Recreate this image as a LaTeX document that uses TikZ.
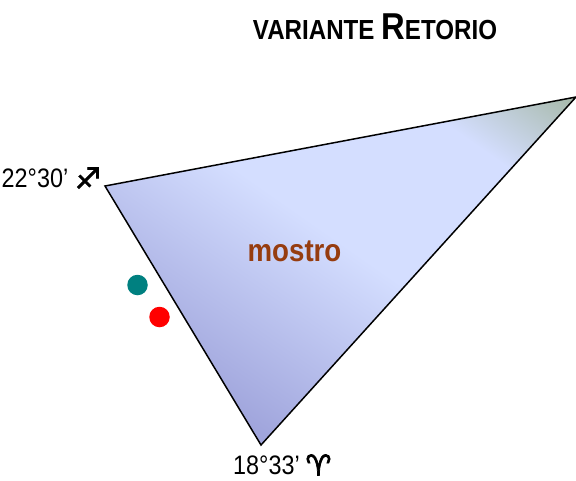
\documentclass[tikz,border=0pt]{standalone}
\usepackage{fontspec}
\usepackage{tikz}
\usetikzlibrary{positioning}
\setmainfont[FakeStretch=0.875]{Liberation Sans}
\newfontfamily\astrofont[FakeBold=2.5]{DejaVu Sans}
\definecolor{tealdot}{RGB}{0,128,128}
\definecolor{titlebrown}{RGB}{150,60,15}
\definecolor{fillA}{RGB}{160,165,220}
\definecolor{fillB}{RGB}{212,222,255}
\definecolor{fillC}{RGB}{168,186,172}
\pgfdeclareverticalshading{mostrofill}{100bp}{
  color(0bp)=(fillA);
  color(27.6bp)=(fillA);
  color(53bp)=(fillB);
  color(72.7bp)=(fillB);
  color(84.3bp)=(fillC);
  color(100bp)=(fillC)}
\tikzset{
  deglabel/.style={inner sep=0pt, font=\fontsize{15.2pt}{16pt}\selectfont},
  zodiac/.style={inner sep=0pt, font=\astrofont\fontsize{16.5pt}{17pt}\selectfont},
  dot/.style={circle, inner sep=0pt, minimum size=0.41cm}
}
\begin{document}
\begin{tikzpicture}
  \useasboundingbox (0,0) rectangle (11.52,9.6);
  \coordinate (a) at (2.1,5.88);
  \coordinate (b) at (11.52,7.66);
  \coordinate (c) at (5.22,0.7);
  \shade[shading=mostrofill, shading angle=-35] (a) -- (b) -- (c) -- cycle;
  \draw[line width=0.85pt, line join=miter] (a) -- (b) -- (c) -- cycle;
  \node (title) at (7.5,9.07) [inner sep=0pt, font=\bfseries\fontsize{15.7pt}{18pt}\selectfont] {VARIANTE {\fontsize{21.3pt}{22pt}\selectfont R}ETORIO};
  \node (mostro) at (5.89,4.57) [inner sep=0pt, text=titlebrown, font=\bfseries\fontsize{18pt}{19pt}\selectfont] {mostro};
  \node (deg1) at (0.7,6.04) [deglabel] {22°30’};
  \node (sag) [zodiac, right=0.12cm of deg1] {\symbol{"2650}};
  \node (deg2) at (5.33,0.3) [deglabel] {18°33’};
  \node (ari) [zodiac, right=0.1cm of deg2] {\symbol{"2648}};
  \node (teal) at (2.75,3.9) [dot, fill=tealdot] {};
  \node (red) at (3.19,3.26) [dot, fill=red] {};
\end{tikzpicture}
\end{document}
